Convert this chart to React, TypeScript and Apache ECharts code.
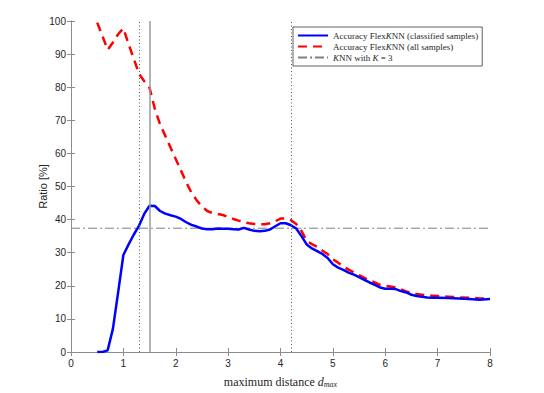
import React, { useEffect, useRef } from "react";
import * as echarts from "echarts";

const xBlue = [0.5, 0.6, 0.7, 0.8, 0.9, 1.0, 1.1, 1.2, 1.3, 1.4, 1.5, 1.6, 1.7, 1.8, 1.9, 2.0, 2.1, 2.2, 2.3, 2.4, 2.5, 2.6, 2.7, 2.8, 2.9, 3.0, 3.1, 3.2, 3.3, 3.4, 3.5, 3.6, 3.7, 3.8, 3.9, 4.0, 4.1, 4.2, 4.3, 4.4, 4.5, 4.6, 4.7, 4.8, 4.9, 5.0, 5.1, 5.2, 5.3, 5.4, 5.5, 5.6, 5.7, 5.8, 5.9, 6.0, 6.1, 6.2, 6.3, 6.4, 6.5, 6.6, 6.7, 6.8, 6.9, 7.0, 7.2, 7.4, 7.6, 7.8, 8.0];
const yBlue = [0, 0, 0.5, 7, 18, 29.3, 32.5, 35.5, 38.2, 41.8, 44.2, 44.1, 42.6, 41.8, 41.3, 40.9, 40.2, 39.2, 38.4, 37.9, 37.3, 37.1, 37.1, 37.3, 37.2, 37.2, 37.1, 37.0, 37.5, 37.0, 36.6, 36.5, 36.6, 37.0, 38.0, 38.9, 38.9, 38.3, 37.3, 35.0, 32.5, 31.3, 30.5, 29.6, 28.4, 26.5, 25.5, 24.8, 24.0, 23.4, 22.6, 21.8, 21.0, 20.3, 19.5, 19.1, 19.1, 19.0, 18.4, 18.0, 17.3, 16.9, 16.7, 16.5, 16.4, 16.4, 16.3, 16.2, 16.0, 15.8, 16.0];

const xRed = [0.5, 0.6, 0.7, 0.8, 0.9, 1.0, 1.1, 1.2, 1.3, 1.4, 1.5, 1.6, 1.7, 1.8, 1.9, 2.0, 2.1, 2.2, 2.3, 2.4, 2.5, 2.6, 2.7, 2.8, 2.9, 3.0, 3.1, 3.2, 3.3, 3.4, 3.5, 3.6, 3.7, 3.8, 3.9, 4.0, 4.1, 4.2, 4.3, 4.4, 4.5, 4.6, 4.7, 4.8, 4.9, 5.0, 5.1, 5.2, 5.3, 5.4, 5.5, 5.6, 5.7, 5.8, 5.9, 6.0, 6.1, 6.2, 6.3, 6.4, 6.5, 6.6, 6.7, 6.8, 6.9, 7.0, 7.2, 7.4, 7.6, 7.8, 8.0];
const yRed = [99.5, 95.5, 91.3, 93.5, 96, 97.8, 93, 88.5, 84, 81.8, 79.8, 73.5, 68.8, 65.3, 61.8, 58.3, 54.8, 51.3, 48.1, 45.8, 44.0, 42.6, 42.0, 41.7, 41.4, 40.8, 40.2, 39.7, 39.2, 38.9, 38.7, 38.6, 38.6, 38.9, 39.5, 40.3, 40.3, 39.8, 38.7, 36.6, 33.6, 32.6, 31.8, 30.6, 29.6, 28.0, 27.0, 25.8, 24.9, 24.1, 23.2, 22.4, 21.6, 21.0, 20.3, 20.0, 19.8, 19.5, 18.9, 18.3, 17.8, 17.5, 17.3, 17.1, 17.0, 16.9, 16.7, 16.5, 16.4, 16.2, 16.1];

const knnX = [0, 8];
const knnY = [37.4, 37.4];

const dottedLinesX = [1.3, 4.2];
const solidLineX = [1.5];

const seriesNames = [
  "Accuracy FlexKNN (classified samples)",
  "Accuracy FlexKNN (all samples)",
  "KNN with K = 3",
];

const xAxisName = "maximum distance";
const yAxisName = "Ratio [%]";

const zip = (xs: number[], ys: number[]) => xs.map((x, i) => [x, ys[i]]);

export default function App() {
  const ref = useRef<HTMLDivElement>(null);
  useEffect(() => {
    if (!ref.current) return;
    const chart = echarts.init(ref.current, null, { renderer: "svg" });
    const axisColor = "#8c8c8c";
    const textColor = "#262626";
    const sans = "'Liberation Sans', Arial, sans-serif";
    const serif = "'Liberation Serif', 'Times New Roman', serif";
    const tick = { show: true, inside: true, length: 4, lineStyle: { color: axisColor, width: 1 } };
    chart.setOption({
      animation: false,
      backgroundColor: "#ffffff",
      grid: { left: 71, top: 21, right: 54, bottom: 40, containLabel: false },
      legend: {
        orient: "vertical",
        left: 293,
        top: 27,
        padding: [3, 4, 3, 4],
        itemGap: 0,
        itemWidth: 30,
        itemHeight: 8,
        backgroundColor: "#ffffff",
        borderColor: "#3a3a3a",
        borderWidth: 0.8,
        itemStyle: { opacity: 0 },
        data: seriesNames,
        formatter: (name: string) =>
          name.replace("K = 3", "{i|K} = 3").replace("KNN", "{i|K}NN"),
        textStyle: {
          fontFamily: serif,
          fontSize: 9,
          lineHeight: 11,
          color: textColor,
          rich: {
            i: { fontFamily: serif, fontSize: 9, lineHeight: 11, fontStyle: "italic", color: textColor },
          },
        },
      },
      xAxis: [
        {
          type: "value",
          min: 0,
          max: 8,
          interval: 1,
          position: "bottom",
          name: xAxisName + " {i|d}{s|max}",
          nameLocation: "middle",
          nameGap: 23,
          nameMoveOverlap: false,
          nameTextStyle: {
            fontFamily: serif,
            fontSize: 12,
            color: textColor,
            rich: {
              i: { fontFamily: serif, fontSize: 12, fontStyle: "italic", color: textColor },
              s: { fontFamily: serif, fontSize: 8, fontStyle: "italic", color: textColor, verticalAlign: "bottom", padding: [5, 0, 0, 0] },
            },
          },
          axisLine: { show: true, lineStyle: { color: axisColor, width: 1 } },
          axisTick: tick,
          axisLabel: { fontFamily: sans, fontSize: 10, color: textColor, margin: 6 },
          splitLine: { show: false },
        },
        {
          type: "value",
          min: 0,
          max: 8,
          interval: 1,
          position: "top",
          axisLine: { show: true, lineStyle: { color: axisColor, width: 1 } },
          axisTick: tick,
          axisLabel: { show: false },
          splitLine: { show: false },
        },
      ],
      yAxis: [
        {
          type: "value",
          min: 0,
          max: 100,
          interval: 10,
          position: "left",
          name: yAxisName,
          nameLocation: "middle",
          nameGap: 23,
          nameMoveOverlap: false,
          nameRotate: 90,
          nameTextStyle: { fontFamily: sans, fontSize: 11, color: textColor },
          axisLine: { show: true, lineStyle: { color: axisColor, width: 1 } },
          axisTick: tick,
          axisLabel: { fontFamily: sans, fontSize: 10, color: textColor, margin: 5 },
          splitLine: { show: false },
        },
        {
          type: "value",
          min: 0,
          max: 100,
          interval: 10,
          position: "right",
          axisLine: { show: true, lineStyle: { color: axisColor, width: 1 } },
          axisTick: tick,
          axisLabel: { show: false },
          splitLine: { show: false },
        },
      ],
      series: [
        {
          name: seriesNames[2],
          type: "line",
          data: zip(knnX, knnY),
          symbol: "none",
          z: 1,
          lineStyle: { color: "#808080", width: 1, type: [9, 3, 2, 3] },
          itemStyle: { color: "#808080" },
          markLine: {
            silent: true,
            symbol: "none",
            label: { show: false },
            data: [
              ...dottedLinesX.map((x) => ({ xAxis: x, lineStyle: { color: "#555555", width: 1, type: [1, 2.5] } })),
              ...solidLineX.map((x) => ({ xAxis: x, lineStyle: { color: "#9a9a9a", width: 1.5, type: "solid" } })),
            ],
          },
        },
        {
          name: seriesNames[1],
          type: "line",
          data: zip(xRed, yRed),
          symbol: "none",
          z: 3,
          lineStyle: { color: "#ff0000", width: 2.5, type: [9, 6] },
          itemStyle: { color: "#ff0000" },
        },
        {
          name: seriesNames[0],
          type: "line",
          data: zip(xBlue, yBlue),
          symbol: "none",
          z: 4,
          lineStyle: { color: "#0000ff", width: 2.5 },
          itemStyle: { color: "#0000ff" },
        },
      ],
    });
    return () => chart.dispose();
  }, []);
  return (
    <div
      ref={ref}
      style={{ position: "fixed", left: 0, top: 0, width: 544, height: 393, background: "#fff" }}
    />
  );
}
